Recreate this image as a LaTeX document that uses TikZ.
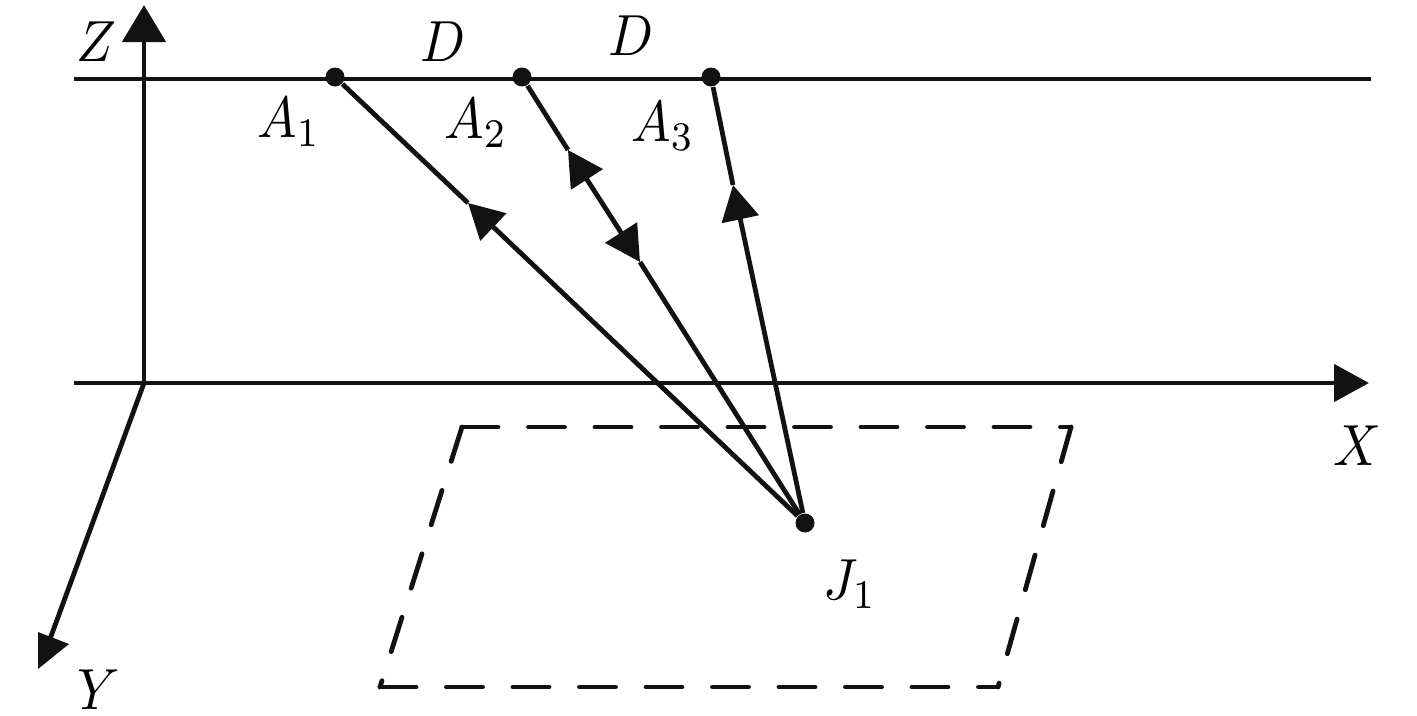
\documentclass[tikz,border=0pt]{standalone}
\usepackage{amsmath, amssymb}
\usetikzlibrary{arrows.meta}
\definecolor{myInk}{gray}{0.07}
\tikzset{myLine/.style={line width=0.48mm,color=myInk}}
\tikzset{myTip/.style={-{Triangle[length=3.5mm,width=3.7mm]}}}
\tikzset{myWideTip/.style={-{Triangle[length=3.7mm,width=4.3mm]}}}
\tikzset{myBothTip/.style={{Triangle[length=3.5mm,width=3.7mm]}-{Triangle[length=3.5mm,width=3.7mm]}}}
\tikzset{myDash/.style={myLine, line cap=round, dash pattern=on 3.6mm off 3.05mm}}
\tikzset{myDot/.style={circle,fill=myInk,inner sep=0pt,minimum size=1.9mm}}
\tikzset{myLabel/.style={inner sep=0pt,xscale=1.5,yscale=1.65}}
\begin{document}
\begin{tikzpicture}[x=1mm,y=-1mm]
	\useasboundingbox (0,0) rectangle (141.7,71.6);
	% axes
	\coordinate (O) at (14.4,38.3);
	\coordinate (Zend) at (14.4,0.5);
	\coordinate (Xstart) at (7.4,38.3);
	\coordinate (Xend) at (136.9,38.3);
	\coordinate (Ybase) at (5.0,63.9);
	\coordinate (Ya) at (3.8,63.2);
	\coordinate (Yb) at (6.9,64.4);
	\coordinate (Yc) at (3.8,66.9);
	\draw[myLine, myWideTip](O)--(Zend);
	\draw[myLine, myTip](Xstart)--(Xend);
	\draw[myLine](O)--(Ybase);
	\fill[myInk](Ya)--(Yb)--(Yc)--cycle;
	% profile line
	\coordinate (Dstart) at (7.4,7.9);
	\coordinate (Dend) at (137.1,7.9);
	\draw[myLine](Dstart)--(Dend);
	\node[myDot](A1) at (33.5,7.7){};
	\node[myDot](A2) at (52.2,7.7){};
	\node[myDot](A3) at (71.1,7.7){};
	\node[myDot](J1) at (80.5,52.3){};
	% rays
	\coordinate (T1) at (46.8,20.3);
	\coordinate (T2a) at (56.8,15.0);
	\coordinate (T2b) at (64.0,26.2);
	\coordinate (T3) at (73.3,18.5);
	\draw[myLine](A1)--(T1);
	\draw[myLine](A2)--(T2a);
	\draw[myLine](A3)--(T3);
	\draw[myLine](T2b)--(J1);
	\draw[myLine, myTip](J1)--(T1);
	\draw[myLine, myBothTip](T2a)--(T2b);
	\draw[myLine, myTip](J1)--(T3);
	% source area
	\coordinate (P1) at (46.2,42.7);
	\coordinate (P2) at (107.1,42.7);
	\coordinate (P3) at (99.8,68.7);
	\coordinate (P4) at (38.0,68.7);
	\draw[myDash](P1)--(P2);
	\draw[myDash](P2)--(P3);
	\draw[myDash](P1)--(P4);
	\draw[myDash](P4)--(P3);
	% labels
	\node[myLabel](Z) at (9.6,4.15){$Z$};
	\node[myLabel](D1) at (44.3,4.2){$D$};
	\node[myLabel](D2) at (63.1,3.6){$D$};
	\node[myLabel](LA1) at (28.9,12.2){$A_1$};
	\node[myLabel](LA2) at (47.6,12.3){$A_2$};
	\node[myLabel](LA3) at (66.3,12.6){$A_3$};
	\node[myLabel](X) at (135.7,44.6){$X$};
	\node[myLabel](Y) at (9.9,69.0){$Y$};
	\node[myLabel](LJ1) at (85.0,58.4){$J_1$};
\end{tikzpicture}
\end{document}
